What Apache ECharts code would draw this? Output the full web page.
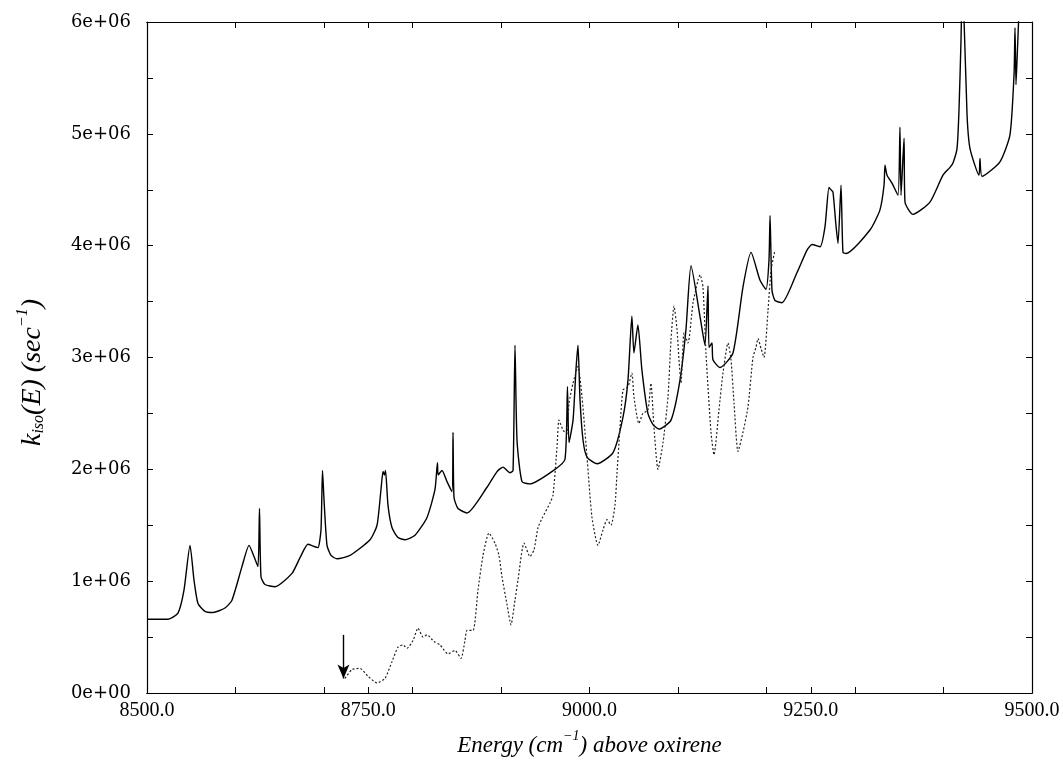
<!DOCTYPE html>
<html lang="en">

<head>
    <meta charset="UTF-8">
    <title>kiso(E)</title>
    <script src="https://cdn.jsdelivr.net/npm/echarts@6/dist/echarts.min.js"></script>
    <style>
        * {
            margin: 0;
            padding: 0;
        }
        body {
            background-color: #fff;
        }
        #box1 {
            width: 1063px;
            height: 764px;
        }
    </style>
</head>

<body>
    <div id="box1"></div>
    <script>
        // energies (cm-1) and rates (units of 1e6 s-1)
        var solidE = [8500.0, 8523.7, 8535.0, 8541.8, 8548.6, 8553.1, 8557.6, 8565.5, 8574.6, 8588.1,
            8596.0, 8607.3, 8615.3, 8620.9, 8625.4, 8627.1, 8628.8, 8633.3, 8644.6, 8663.8,
            8672.9, 8681.9, 8688.7, 8693.2, 8696.6, 8698.3, 8700.0, 8703.4, 8707.9, 8714.7,
            8729.4, 8752.0, 8759.9, 8764.4, 8766.7, 8768.4, 8769.5, 8772.3, 8776.8, 8783.6,
            8791.5, 8802.8, 8816.4, 8825.4, 8828.2, 8829.0, 8833.3, 8839.0, 8844.6, 8845.8,
            8846.9, 8851.4, 8861.6, 8884.2, 8895.5, 8902.3, 8910.2, 8913.6, 8915.8, 8918.1,
            8923.7, 8932.8, 8961.0, 8972.3, 8975.1, 8976.8, 8981.4, 8984.7, 8987.0, 8989.3,
            8992.7, 8997.2, 9008.5, 9026.6, 9037.9, 9043.5, 9047.9, 9050.2, 9054.7, 9059.2,
            9066.0, 9071.8, 9078.5, 9092.1, 9102.3, 9109.0, 9114.7, 9125.4, 9130.5, 9133.9,
            9135.0, 9138.4, 9139.5, 9147.5, 9162.1, 9173.4, 9182.5, 9192.7, 9199.4, 9202.8,
            9204.0, 9206.2, 9209.6, 9217.5, 9234.5, 9245.8, 9251.4, 9260.5, 9266.1, 9270.6,
            9272.9, 9275.1, 9278.5, 9280.8, 9284.2, 9286.4, 9289.8, 9316.9, 9328.2, 9332.8,
            9333.9, 9336.2, 9341.8, 9348.6, 9350.8, 9352.0, 9355.4, 9356.5, 9365.5, 9384.7,
            9399.4, 9407.3, 9410.7, 9415.3, 9417.5, 9419.8, 9420.9, 9423.2, 9426.6, 9429.9,
            9440.1, 9441.2, 9443.5, 9463.8, 9475.1, 9479.7, 9480.8, 9481.9, 9483.1, 9485.3];
        var solidK = [0.66, 0.66, 0.715, 0.92, 1.32, 1.01, 0.80, 0.73, 0.72, 0.76,
            0.83, 1.13, 1.32, 1.22, 1.13, 1.65, 1.04, 0.97, 0.95, 1.07,
            1.21, 1.33, 1.31, 1.30, 1.46, 1.99, 1.73, 1.32, 1.23, 1.20,
            1.23, 1.37, 1.50, 1.82, 1.98, 1.95, 1.99, 1.68, 1.48, 1.39,
            1.37, 1.41, 1.57, 1.82, 2.06, 1.95, 1.99, 1.89, 1.80, 2.33,
            1.75, 1.65, 1.61, 1.84, 1.98, 2.02, 1.97, 1.99, 3.11, 2.26,
            1.89, 1.87, 2.00, 2.09, 2.74, 2.24, 2.44, 2.89, 3.11, 2.62,
            2.26, 2.11, 2.05, 2.15, 2.47, 2.80, 3.37, 3.04, 3.29, 2.89,
            2.50, 2.40, 2.36, 2.44, 2.80, 3.25, 3.82, 3.34, 3.11, 3.64,
            3.09, 3.13, 2.98, 2.91, 3.04, 3.63, 3.94, 3.69, 3.61, 3.87,
            4.27, 3.60, 3.51, 3.49, 3.76, 3.96, 4.01, 3.99, 4.17, 4.52,
            4.50, 4.48, 4.18, 4.02, 4.54, 3.94, 3.93, 4.14, 4.32, 4.54,
            4.72, 4.63, 4.56, 4.45, 5.06, 4.45, 4.96, 4.39, 4.28, 4.39,
            4.63, 4.70, 4.74, 4.87, 5.21, 5.84, 6.20, 6.02, 5.17, 4.87,
            4.63, 4.78, 4.62, 4.75, 4.99, 5.53, 5.95, 5.44, 5.66, 6.10];

        var dottedE = [8723.7, 8731.6, 8740.7, 8749.7, 8759.9, 8768.9, 8776.8, 8783.6, 8789.3, 8793.8,
            8800.6, 8806.2, 8811.9, 8816.4, 8824.3, 8831.1, 8840.1, 8848.0, 8854.8, 8859.3,
            8861.6, 8868.4, 8874.0, 8879.7, 8886.4, 8893.2, 8897.7, 8901.1, 8906.8, 8911.3,
            8915.8, 8919.2, 8926.0, 8932.8, 8937.3, 8941.8, 8946.3, 8955.4, 8958.8, 8963.3,
            8965.5, 8970.1, 8974.6, 8976.8, 8981.4, 8987.0, 8991.5, 8997.2, 9002.8, 9009.6,
            9015.3, 9019.8, 9024.3, 9028.8, 9031.1, 9034.5, 9037.9, 9043.5, 9047.9, 9050.2,
            9055.8, 9060.3, 9066.0, 9069.4, 9072.8, 9077.4, 9083.1, 9088.7, 9092.1, 9095.5,
            9098.9, 9101.1, 9103.4, 9106.8, 9111.3, 9117.0, 9122.6, 9124.9, 9128.2, 9131.6,
            9137.3, 9140.7, 9146.3, 9150.8, 9156.5, 9159.9, 9163.3, 9167.8, 9173.4, 9179.1,
            9184.7, 9188.1, 9190.4, 9193.8, 9197.2, 9201.7, 9205.1, 9209.6];
        var dottedK = [0.13, 0.21, 0.22, 0.15, 0.09, 0.13, 0.28, 0.41, 0.43, 0.40,
            0.47, 0.58, 0.50, 0.52, 0.46, 0.43, 0.35, 0.38, 0.31, 0.47,
            0.56, 0.56, 0.92, 1.23, 1.43, 1.34, 1.23, 1.04, 0.79, 0.61,
            0.83, 1.01, 1.34, 1.22, 1.28, 1.48, 1.56, 1.70, 1.77, 2.20,
            2.44, 2.35, 2.32, 2.59, 2.77, 2.92, 2.65, 2.11, 1.57, 1.32,
            1.46, 1.55, 1.50, 1.68, 1.97, 2.38, 2.71, 2.74, 2.86, 2.65,
            2.41, 2.50, 2.53, 2.77, 2.38, 2.00, 2.24, 2.65, 3.16, 3.46,
            3.25, 2.98, 2.77, 3.22, 3.13, 3.49, 3.69, 3.74, 3.63, 3.04,
            2.33, 2.13, 2.53, 2.86, 3.13, 2.98, 2.59, 2.16, 2.33, 2.56,
            3.00, 3.09, 3.17, 3.08, 3.00, 3.42, 3.78, 3.96];

        // arrow marking the threshold
        var arrowE = 8722;
        var arrowTop = 0.52;
        var arrowBottom = 0.13;

        var xMin = 8500, xMax = 9500;
        var yMin = 0, yMax = 6;

        function zip(a, b) {
            var out = [];
            for (var i = 0; i < a.length; i++) {
                out.push([a[i], b[i]]);
            }
            return out;
        }

        var serif = "'Liberation Serif', 'Times New Roman', serif";
        var wide = "'DejaVu Serif', serif";
        var black = '#000';

        function xAx(pos, interval, labels) {
            return {
                type: 'value',
                position: pos,
                min: xMin,
                max: xMax,
                interval: interval,
                axisLine: { show: true, onZero: false, lineStyle: { color: black, width: 1.2 } },
                axisTick: { show: true, inside: true, length: 6, lineStyle: { color: black } },
                axisLabel: {
                    show: labels,
                    margin: 8,
                    fontFamily: serif,
                    fontSize: 20,
                    color: black,
                    formatter: function (v) { return v.toFixed(1); }
                },
                splitLine: { show: false }
            };
        }

        function yAx(pos, labels) {
            return {
                type: 'value',
                position: pos,
                min: yMin,
                max: yMax,
                interval: 0.5,
                axisLine: { show: true, onZero: false, lineStyle: { color: black, width: 1.2 } },
                axisTick: { show: true, inside: true, length: 6, lineStyle: { color: black } },
                axisLabel: {
                    show: labels,
                    margin: 16,
                    fontFamily: wide,
                    fontSize: 18,
                    color: black,
                    formatter: function (v) {
                        if (v % 1 !== 0) return '';
                        return v === 0 ? '0e+00' : v + 'e+06';
                    }
                },
                splitLine: { show: false }
            };
        }

        var xName = xAx('bottom', 250, true);
        xName.name = '{t|Energy (cm}{s|\u22121}{t|) above oxirene}';
        xName.nameLocation = 'middle';
        xName.nameGap = 36;
        xName.nameTextStyle = {
            rich: {
                t: { fontFamily: serif, fontStyle: 'italic', fontSize: 23, color: black, lineHeight: 28, verticalAlign: 'bottom' },
                s: { fontFamily: serif, fontStyle: 'italic', fontSize: 14, color: black, lineHeight: 28, verticalAlign: 'top', padding: [0, 0, 10, 0] }
            }
        };

        var yName = yAx('left', true);
        yName.name = '{t|k}{b|iso}{t|(E) (sec}{s|\u22121}{t|)}';
        yName.nameLocation = 'middle';
        yName.nameGap = 100;
        yName.nameRotate = 90;
        yName.nameTextStyle = {
            padding: [0, 30, 0, 0],
            rich: {
                t: { fontFamily: serif, fontStyle: 'italic', fontSize: 28, color: black, lineHeight: 32, verticalAlign: 'bottom' },
                b: { fontFamily: serif, fontStyle: 'italic', fontSize: 16, color: black, lineHeight: 32, verticalAlign: 'bottom', padding: [12, 0, 0, 0] },
                s: { fontFamily: serif, fontStyle: 'italic', fontSize: 16, color: black, lineHeight: 32, verticalAlign: 'top', padding: [0, 0, 12, 0] }
            }
        };

        var option = {
            animation: false,
            backgroundColor: '#fff',
            grid: {
                left: 147,
                right: 31,
                top: 22,
                bottom: 71
            },
            xAxis: [
                xName,
                xAx('bottom', 100, false),
                xAx('top', 250, false),
                xAx('top', 100, false)
            ],
            yAxis: [
                yName,
                yAx('right', false)
            ],
            series: [{
                name: 'kiso',
                type: 'line',
                xAxisIndex: 0,
                yAxisIndex: 0,
                data: zip(solidE, solidK),
                showSymbol: false,
                smooth: 0.2,
                clip: true,
                lineStyle: { color: black, width: 1.4 }
            }, {
                name: 'expt',
                type: 'line',
                xAxisIndex: 0,
                yAxisIndex: 0,
                data: zip(dottedE, dottedK),
                showSymbol: false,
                smooth: 0.2,
                clip: true,
                lineStyle: { color: '#222', width: 1.2, type: [2, 2] },
                markLine: {
                    silent: true,
                    symbol: ['none', 'arrow'],
                    symbolSize: [9, 14],
                    label: { show: false },
                    lineStyle: { color: black, width: 1.4, type: 'solid' },
                    data: [[{ coord: [arrowE, arrowTop] }, { coord: [arrowE, arrowBottom] }]]
                }
            }]
        };
        echarts.init(document.querySelector('#box1')).setOption(option);
    </script>
</body>

</html>
